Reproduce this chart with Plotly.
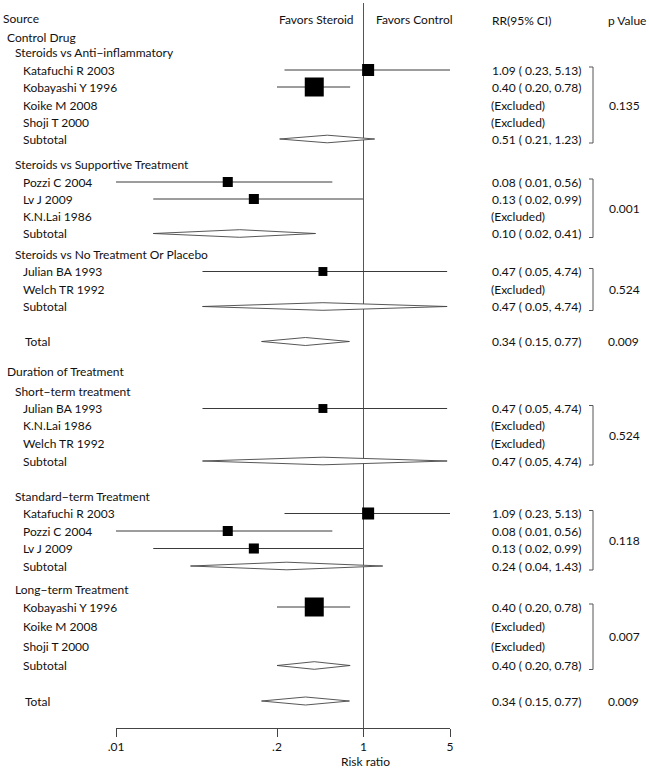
import math
import plotly.graph_objects as go

W, H = 649, 769

# ---------------- data ----------------
study_names = ["Katafuchi R 2003", "Kobayashi Y 1996", "Koike M 2008", "Shoji T 2000",
               "Pozzi C 2004", "Lv J 2009", "K.N.Lai 1986", "Julian BA 1993", "Welch TR 1992"]
study_rr = [1.09, 0.40, None, None, 0.08, 0.13, None, 0.47, None]
study_lo = [0.23, 0.20, None, None, 0.01, 0.02, None, 0.05, None]
study_hi = [5.13, 0.78, None, None, 0.56, 0.99, None, 4.74, None]
study_weight = [40, 100, 0, 0, 28, 28, 0, 22, 0]

section_names = ["Control Drug", "Duration of Treatment"]
group_names = [
    ["Steroids vs Anti\u2212inflammatory", "Steroids vs Supportive Treatment",
     "Steroids vs No Treatment Or Placebo"],
    ["Short\u2212term treatment", "Standard\u2212term Treatment", "Long\u2212term Treatment"],
]
group_members = [
    [["Katafuchi R 2003", "Kobayashi Y 1996", "Koike M 2008", "Shoji T 2000"],
     ["Pozzi C 2004", "Lv J 2009", "K.N.Lai 1986"],
     ["Julian BA 1993", "Welch TR 1992"]],
    [["Julian BA 1993", "K.N.Lai 1986", "Welch TR 1992"],
     ["Katafuchi R 2003", "Pozzi C 2004", "Lv J 2009"],
     ["Kobayashi Y 1996", "Koike M 2008", "Shoji T 2000"]],
]
subtotal_rr = [[0.51, 0.10, 0.47], [0.47, 0.24, 0.40]]
subtotal_lo = [[0.21, 0.02, 0.05], [0.05, 0.04, 0.20]]
subtotal_hi = [[1.23, 0.41, 4.74], [4.74, 1.43, 0.78]]
subtotal_p = [["0.135", "0.001", "0.524"], ["0.524", "0.118", "0.007"]]
total_rr = [0.34, 0.34]
total_lo = [0.15, 0.15]
total_hi = [0.77, 0.77]
total_p = ["0.009", "0.009"]

tick_vals = [0.01, 0.2, 1, 5]
tick_text = [".01", ".2", "1", "5"]

# ---------------- layout (pixel rows) ----------------
row_y = [37, 52, 70, 87, 105, 122, 139, 164, 182, 199, 216, 233.5, 254, 271.5, 289, 306.5,
         341.5, 371.5, 391, 408.5, 425.5, 443, 461, 496, 513.5, 531, 548.5, 566, 589.5,
         607, 626, 646, 665.5, 701]

FONT = "Lato"
FS = 12
TXT = "#111111"
LINE = "#3a3a3a"

S = study_names.index
rows = []  # (kind, label, payload)
for si, sec in enumerate(section_names):
    rows.append(("section", sec, None))
    for gi, g in enumerate(group_names[si]):
        rows.append(("group", g, None))
        first = len(rows)
        for m in group_members[si][gi]:
            rows.append(("study", m, S(m)))
        rows.append(("subtotal", "Subtotal", (si, gi, first)))
    rows.append(("total", "Total", si))

def fmt(rr, lo, hi):
    return f"{rr:.2f} ( {lo:.2f}, {hi:.2f})"

annotations = []
shapes = []

def txt(x, y, s, anchor="left"):
    annotations.append(dict(x=x / W, xref="paper", y=y, yref="y", text=s, showarrow=False,
                            xanchor=anchor, yanchor="middle",
                            font=dict(family=FONT, size=FS, color=TXT)))

# header row
txt(1, 18, "Source")
txt(356, 19.5, "Favors Steroid", "right")
txt(374, 19.5, "Favors Control")
txt(490, 20.5, "RR(95% CI)")
txt(606, 20, "p Value")

ci_x, ci_y = [], []
box_x, box_y, box_s = [], [], []
dia_x, dia_y = [], []
wmax = max(study_weight)

for (kind, label, pay), y in zip(rows, row_y):
    if kind == "section":
        txt(5, y, label)
    elif kind == "group":
        txt(13, y, label)
    elif kind == "study":
        txt(21, y, label)
        i = pay
        if study_rr[i] is None:
            txt(489, y, "(Excluded)")
        else:
            ci_x += [study_lo[i], study_hi[i], None]
            ci_y += [y, y, None]
            box_x.append(study_rr[i])
            box_y.append(y)
            box_s.append(19 * math.sqrt(study_weight[i] / wmax))
            txt(490, y, fmt(study_rr[i], study_lo[i], study_hi[i]))
    elif kind == "subtotal":
        si, gi, first = pay
        txt(21, y, label)
        rr, lo, hi = subtotal_rr[si][gi], subtotal_lo[si][gi], subtotal_hi[si][gi]
        dia_x += [lo, rr, hi, rr, lo, None]
        dia_y += [y, y - 3.8, y, y + 3.8, y, None]
        txt(490, y, fmt(rr, lo, hi))
        top = row_y[first] - 3
        bot = y + 4
        shapes.append(dict(type="path", xref="paper", yref="y",
                           path=f"M {589/W},{top} L {593/W},{top} L {593/W},{bot} L {589/W},{bot}",
                           line=dict(color="#555555", width=1)))
        annotations.append(dict(x=624 / W, xref="paper", y=(top + bot) / 2, yref="y",
                                text=subtotal_p[si][gi], showarrow=False, xanchor="center",
                                yanchor="middle", font=dict(family=FONT, size=FS, color=TXT)))
    elif kind == "total":
        si = pay
        txt(23, y, label)
        rr, lo, hi = total_rr[si], total_lo[si], total_hi[si]
        dia_x += [lo, rr, hi, rr, lo, None]
        dia_y += [y, y - 4, y, y + 4, y, None]
        txt(490, y, fmt(rr, lo, hi))
        annotations.append(dict(x=623 / W, xref="paper", y=y, yref="y", text=total_p[si],
                                showarrow=False, xanchor="center", yanchor="middle",
                                font=dict(family=FONT, size=FS, color=TXT)))

fig = go.Figure()
# reference line at RR = 1
fig.add_trace(go.Scatter(x=[1, 1], y=[3, 728], mode="lines",
                         line=dict(color="#555555", width=1), hoverinfo="skip"))
fig.add_trace(go.Scatter(x=ci_x, y=ci_y, mode="lines",
                         line=dict(color=LINE, width=1), hoverinfo="skip"))
fig.add_trace(go.Scatter(x=dia_x, y=dia_y, mode="lines", fill="toself",
                         fillcolor="white", line=dict(color="#444444", width=0.9),
                         hoverinfo="skip"))
fig.add_trace(go.Scatter(x=box_x, y=box_y, mode="markers",
                         marker=dict(symbol="square", size=box_s, color="black", opacity=1,
                                     line=dict(width=0)), hoverinfo="skip"))

annotations.append(dict(x=365 / W, xref="paper", y=(H - 761) / H, yref="paper",
                        text="Risk ratio", showarrow=False, xanchor="center", yanchor="middle",
                        font=dict(family=FONT, size=FS, color=TXT)))

fig.update_layout(
    template="none",
    width=W, height=H, margin=dict(l=0, r=0, t=0, b=0, pad=0, autoexpand=False),
    paper_bgcolor="white", plot_bgcolor="white", showlegend=False,
    font=dict(family=FONT, size=FS, color=TXT),
    xaxis=dict(type="log", domain=[116 / W, 450 / W], range=[-2, math.log10(5)],
               tickvals=tick_vals, ticktext=tick_text, ticks="outside", ticklen=8,
               tickcolor="#444444", showline=True, linecolor="#444444", linewidth=1,
               showgrid=False, zeroline=False, automargin=False,
               tickfont=dict(family=FONT, size=FS, color=TXT)),
    yaxis=dict(domain=[(H - 728) / H, 1], range=[728, 0], visible=False,
               showgrid=False, zeroline=False, automargin=False),
    annotations=annotations, shapes=shapes,
)

fig.write_html("out.html", config={"displayModeBar": False},
               post_script="document.body.style.margin='0';document.body.style.overflow='hidden';")
